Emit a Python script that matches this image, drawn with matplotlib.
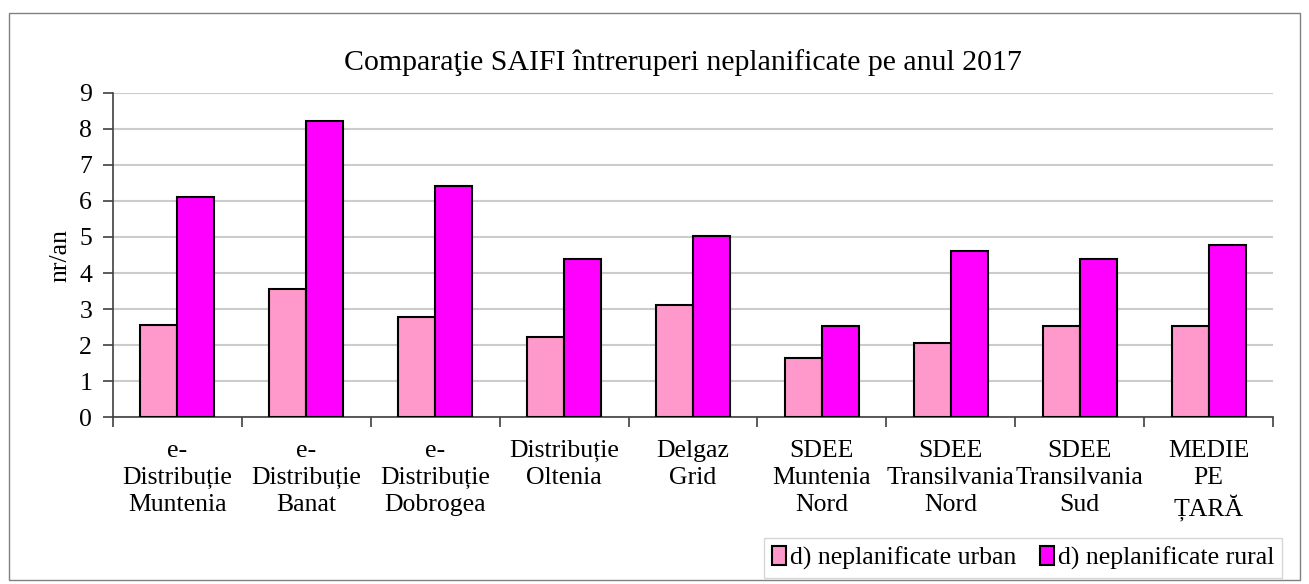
import matplotlib
matplotlib.use("Agg")
import matplotlib.pyplot as plt
from matplotlib.patches import Rectangle
import numpy as np

categories = ["e-\nDistribuție\nMuntenia", "e-\nDistribuție\nBanat", "e-\nDistribuție\nDobrogea",
              "Distribuție\nOltenia", "Delgaz\nGrid", "SDEE\nMuntenia\nNord",
              "SDEE\nTransilvania\nNord", "SDEE\nTransilvania\nSud", "MEDIE\nPE\nȚARĂ"]
urban = [2.56, 3.55, 2.77, 2.23, 3.12, 1.64, 2.05, 2.53, 2.53]
rural = [6.12, 8.21, 6.41, 4.40, 5.03, 2.53, 4.60, 4.40, 4.77]
series_names = ["d) neplanificate urban", "d) neplanificate rural"]
title = "Comparaţie SAIFI întreruperi neplanificate pe anul 2017"
ylabel = "nr/an"

plt.rcParams['font.family'] = ['Liberation Serif', 'DejaVu Serif']

W, H = 1309, 584
fig = plt.figure(figsize=(W/100, H/100), dpi=100)
ax = fig.add_axes([113/W, 1-417.3/H, (1273-113)/W, (417.3-92.7)/H])

x = np.arange(len(categories))
bw = 0.287
ax.bar(x - bw/2, urban, bw, color='#FF99CC', edgecolor='black', linewidth=1.5,
       label=series_names[0], zorder=3)
ax.bar(x + bw/2, rural, bw, color='#FF00FF', edgecolor='black', linewidth=1.5,
       label=series_names[1], zorder=3)

ax.set_xlim(-0.5, len(categories) - 0.5)
ax.set_ylim(0, 9)
ax.set_yticks(range(0, 10))
ax.tick_params(axis='y', labelsize=18.5, length=7, width=1.2, color='#404040', pad=8)
ax.set_xticks(np.arange(-0.5, len(categories), 1.0))
ax.set_xticklabels([])
ax.set_xticks(x, minor=True)
ax.set_xticklabels(categories, minor=True, fontsize=18.5, linespacing=1.3)
ax.tick_params(axis='x', which='minor', length=0, pad=16)
ax.tick_params(axis='x', which='major', length=7, width=1.2, color='#404040')
ax.grid(axis='y', color='#cccccc', linewidth=1.5, zorder=0)
ax.set_axisbelow(True)
for s in ['top', 'right']:
    ax.spines[s].set_visible(False)
for s in ['left', 'bottom']:
    ax.spines[s].set_color('#404040')
    ax.spines[s].set_linewidth(1.2)

ax.set_ylabel(ylabel, fontsize=18.5, labelpad=6)
fig.text(683/W, 1-63/H, title, ha='center', va='center', fontsize=21.5)

leg = fig.legend(loc='center', bbox_to_anchor=(1023/W, 1-558/H), ncol=2, fontsize=18.5,
                 frameon=True, fancybox=False, edgecolor='#cccccc', handlelength=0.55,
                 handleheight=0.75, handletextpad=0.15, columnspacing=0.9, borderpad=0.3)
leg.get_frame().set_linewidth(1.0)

fig.patches.append(Rectangle((9/W, 1-580/H), (1300-9)/W, (580-13)/H, transform=fig.transFigure,
                             fill=False, edgecolor='#808080', linewidth=1.0))

fig.savefig("out.png", dpi=100)
